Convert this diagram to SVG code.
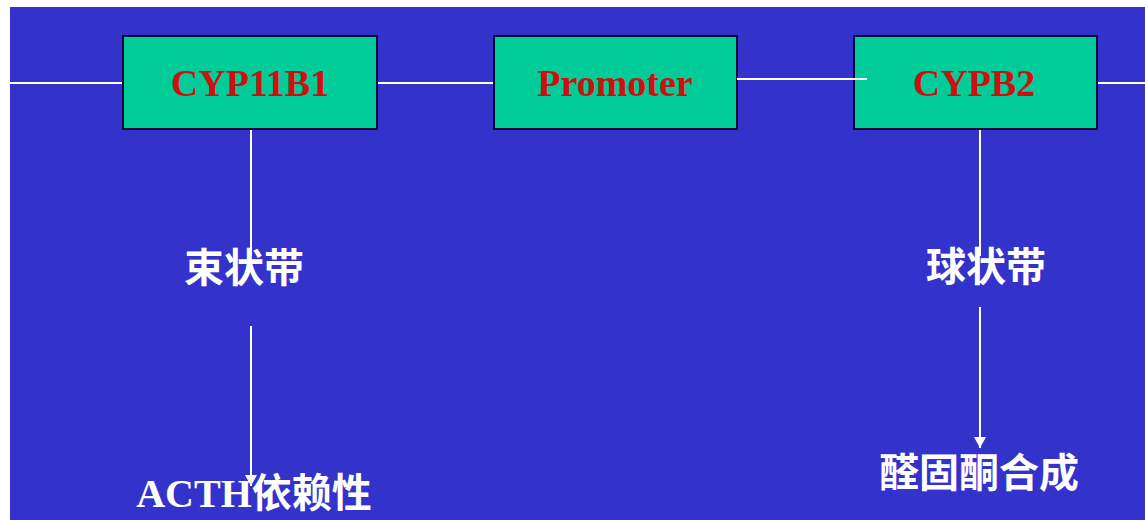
<svg xmlns="http://www.w3.org/2000/svg" width="1145" height="520" viewBox="0 0 1145 520">
  <style>
    .gene { fill: #00cc99; stroke: #0a0a3a; stroke-width: 2; }
    .gene-label { font-family: "Liberation Serif", "Times New Roman", serif; font-weight: bold; font-size: 38px; fill: #cc1111; text-anchor: middle; }
    .zone { font-family: "Noto Sans CJK SC", "Noto Sans", sans-serif; font-weight: bold; font-size: 40px; fill: #ffffff; text-anchor: middle; }
    .latin { font-family: "Liberation Serif", "Times New Roman", serif; font-weight: bold; }
    .link { stroke: #ffffff; stroke-width: 2; fill: none; }
  </style>
  <defs>
    <marker id="tip" markerWidth="11" markerHeight="12" refX="11" refY="6" orient="auto" markerUnits="userSpaceOnUse" viewBox="0 0 11 12">
      <path d="M0,0 L11,6 L0,12 Z" fill="#ffffff"/>
    </marker>
  </defs>

  <!-- page background -->
  <rect x="0" y="0" width="1145" height="520" fill="#ffffff"/>
  <rect x="10" y="7" width="1135" height="513" fill="#3333cc"/>

  <!-- gene chain and downstream links -->
  <g id="connectors">
    <line class="link" x1="10" y1="83" x2="123" y2="83"/>
    <line class="link" x1="377" y1="83" x2="494" y2="83"/>
    <line class="link" x1="1097" y1="83" x2="1145" y2="83"/>
    <line class="link" x1="251" y1="129" x2="251" y2="256"/>
    <line class="link" x1="251" y1="326" x2="251" y2="486" marker-end="url(#tip)"/>
    <line class="link" x1="980" y1="129" x2="980" y2="256"/>
    <line class="link" x1="980" y1="307" x2="980" y2="448" marker-end="url(#tip)"/>
  </g>

  <g id="cyp11b1">
    <rect class="gene" x="123" y="36" width="254" height="93"/>
    <text class="gene-label" x="250" y="96">CYP11B1</text>
  </g>

  <g id="promoter">
    <rect class="gene" x="494" y="36" width="243" height="93"/>
    <text class="gene-label" x="615" y="96">Promoter</text>
  </g>

  <g id="cypb2">
    <rect class="gene" x="854" y="36" width="243" height="93"/>
    <text class="gene-label" x="974" y="96">CYPB2</text>
  </g>

  <!-- promoter to CYPB2 link runs slightly over the box edge -->
  <line class="link" x1="737" y1="79" x2="867" y2="79"/>

  <g id="zona-fasciculata">
    <text class="zone" x="244" y="282">束状带</text>
  </g>

  <g id="acth-dependence">
    <text class="zone" x="254" y="507"><tspan class="latin">ACTH</tspan>依赖性</text>
  </g>

  <g id="zona-glomerulosa">
    <text class="zone" x="986" y="281">球状带</text>
  </g>

  <g id="aldosterone-synthesis">
    <text class="zone" x="979" y="487">醛固酮合成</text>
  </g>
</svg>
